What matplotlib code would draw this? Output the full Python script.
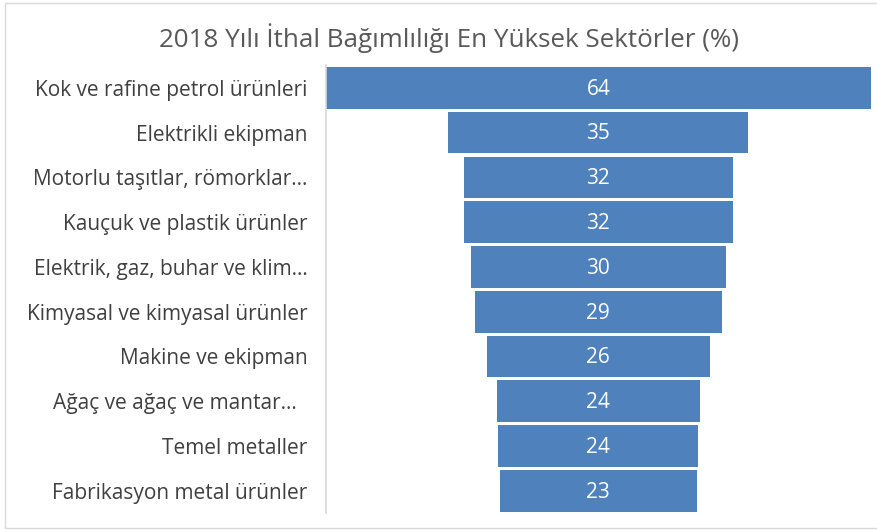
import matplotlib.pyplot as plt
from matplotlib.patches import Rectangle

# import dependency by sector, 2018 (%)
sectors = ['Kok ve rafine petrol ürünleri', 'Elektrikli ekipman', 'Motorlu taşıtlar, römorklar…',
           'Kauçuk ve plastik ürünler', 'Elektrik, gaz, buhar ve klim…', 'Kimyasal ve kimyasal ürünler',
           'Makine ve ekipman', 'Ağaç ve ağaç ve mantar…  ', 'Temel metaller', 'Fabrikasyon metal ürünler']
values = [64.0, 35.2, 31.6, 31.5, 30.0, 29.0, 26.1, 23.9, 23.5, 23.1]

plt.rcParams['font.family'] = ['Open Sans', 'DejaVu Sans']

fig = plt.figure(figsize=(8.77, 5.32), dpi=100)
ax = fig.add_axes([325.7 / 877, 1 - 513.2 / 532, 545.3 / 877, (513.2 - 65.4) / 532])

y = list(range(len(values)))
lefts = [-v / 2 for v in values]
ax.barh(y, values, left=lefts, height=0.93, color='#4f81bd')
for i, v in enumerate(values):
    ax.text(0, i + 0.03, '%.0f' % v, ha='center', va='center', color='white', fontsize=15)

ax.set_xlim(-32, 32)
ax.set_ylim(9.5, -0.5)
ax.set_yticks(y)
ax.set_yticklabels(sectors, fontsize=15, color='#404040')
ax.tick_params(axis='y', length=0, pad=13)
ax.set_xticks([])
for s in ['top', 'right', 'bottom']:
    ax.spines[s].set_visible(False)
ax.spines['left'].set_color('#d9d9d9')
ax.spines['left'].set_linewidth(1.2)

fig.text(449 / 877, 1 - 38 / 532, '2018 Yılı İthal Bağımlılığı En Yüksek Sektörler (%)',
         ha='center', va='center', fontsize=18.7, color='#595959')

# chart border
fig.patches.append(Rectangle((5 / 877, 4 / 532), 1.0, 1 - 7 / 532, transform=fig.transFigure,
                             fill=False, edgecolor='#d9d9d9', linewidth=1))

fig.savefig('out.png', dpi=100)
